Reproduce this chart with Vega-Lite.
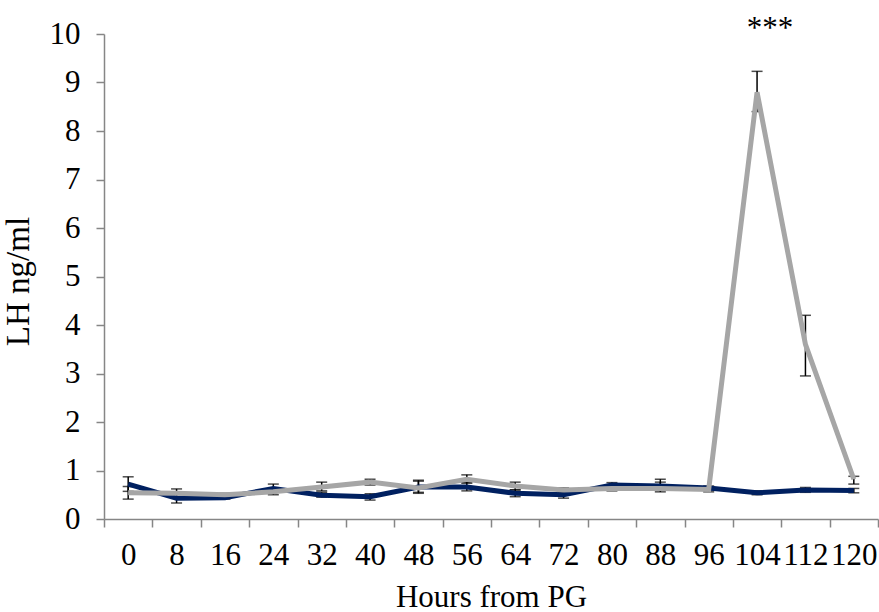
{
  "$schema": "https://vega.github.io/schema/vega-lite/v6.json",
  "width": 774,
  "height": 485,
  "autosize": {"type": "none"},
  "padding": {"left": 104, "top": 34, "right": 1, "bottom": 93},
  "config": {
    "view": {"stroke": null},
    "font": "Liberation Serif"
  },
  "datasets": {
    "lh": [
      {"hour": 0, "group": "A", "value": 0.72, "lo": 0.57, "hi": 0.87},
      {"hour": 8, "group": "A", "value": 0.43, "lo": 0.33, "hi": 0.53},
      {"hour": 16, "group": "A", "value": 0.44, "lo": 0.41, "hi": 0.5},
      {"hour": 24, "group": "A", "value": 0.63, "lo": 0.55, "hi": 0.72},
      {"hour": 32, "group": "A", "value": 0.49, "lo": 0.45, "hi": 0.55},
      {"hour": 40, "group": "A", "value": 0.46, "lo": 0.39, "hi": 0.52},
      {"hour": 48, "group": "A", "value": 0.66, "lo": 0.55, "hi": 0.78},
      {"hour": 56, "group": "A", "value": 0.66, "lo": 0.58, "hi": 0.75},
      {"hour": 64, "group": "A", "value": 0.53, "lo": 0.46, "hi": 0.6},
      {"hour": 72, "group": "A", "value": 0.5, "lo": 0.43, "hi": 0.56},
      {"hour": 80, "group": "A", "value": 0.7, "lo": 0.66, "hi": 0.75},
      {"hour": 88, "group": "A", "value": 0.68, "lo": 0.6, "hi": 0.76},
      {"hour": 96, "group": "A", "value": 0.64, "lo": 0.6, "hi": 0.68},
      {"hour": 104, "group": "A", "value": 0.54, "lo": 0.5, "hi": 0.58},
      {"hour": 112, "group": "A", "value": 0.6, "lo": 0.55, "hi": 0.65},
      {"hour": 120, "group": "A", "value": 0.59, "lo": 0.54, "hi": 0.63},
      {"hour": 0, "group": "B", "value": 0.54, "lo": 0.41, "hi": 0.67},
      {"hour": 8, "group": "B", "value": 0.53, "lo": 0.45, "hi": 0.62},
      {"hour": 16, "group": "B", "value": 0.5, "lo": 0.45, "hi": 0.53},
      {"hour": 24, "group": "B", "value": 0.56, "lo": 0.5, "hi": 0.62},
      {"hour": 32, "group": "B", "value": 0.66, "lo": 0.58, "hi": 0.76},
      {"hour": 40, "group": "B", "value": 0.76, "lo": 0.7, "hi": 0.82},
      {"hour": 48, "group": "B", "value": 0.64, "lo": 0.53, "hi": 0.8},
      {"hour": 56, "group": "B", "value": 0.82, "lo": 0.74, "hi": 0.91},
      {"hour": 64, "group": "B", "value": 0.68, "lo": 0.6, "hi": 0.76},
      {"hour": 72, "group": "B", "value": 0.6, "lo": 0.55, "hi": 0.64},
      {"hour": 80, "group": "B", "value": 0.63, "lo": 0.58, "hi": 0.68},
      {"hour": 88, "group": "B", "value": 0.63, "lo": 0.56, "hi": 0.82},
      {"hour": 96, "group": "B", "value": 0.61, "lo": 0.56, "hi": 0.66},
      {"hour": 104, "group": "B", "value": 8.8, "lo": 8.4, "hi": 9.23},
      {"hour": 112, "group": "B", "value": 3.6, "lo": 2.95, "hi": 4.2},
      {"hour": 120, "group": "B", "value": 0.82, "lo": 0.72, "hi": 0.88}
    ],
    "notes": [{"hour": 104, "y": 9.92, "label": "***"}]
  },
  "encoding": {
    "x": {"field": "hour", "type": "ordinal", "sort": "ascending",
      "scale": {"paddingInner": 0, "paddingOuter": 0},
      "axis": {"title": "Hours from PG", "labelAngle": 0, "tickBand": "extent", "tickSize": 8, "labelPadding": 13, "titlePadding": 12, "labelOverlap": false,
        "grid": false, "domainColor": "#868686", "tickColor": "#868686", "domainWidth": 1.5, "tickWidth": 1.5,
        "labelColor": "#000000", "titleColor": "#000000", "labelFont": "Liberation Serif", "titleFont": "Liberation Serif", "labelFontSize": 31, "titleFontSize": 31, "titleFontWeight": "normal"}}
  },
  "layer": [
    {
      "data": {"name": "lh"},
      "mark": {"type": "rule", "color": "#000000", "strokeWidth": 1.5},
      "encoding": {
        "y": {"field": "lo", "type": "quantitative", "scale": {"domain": [0, 10]},
          "axis": {"title": "LH ng/ml", "values": [0,1,2,3,4,5,6,7,8,9,10], "tickSize": 8, "labelPadding": 16, "titlePadding": 14, "titleY": 247,
            "grid": false, "domainColor": "#868686", "tickColor": "#868686", "domainWidth": 1.5, "tickWidth": 1.5,
            "labelColor": "#000000", "titleColor": "#000000", "labelFont": "Liberation Serif", "titleFont": "Liberation Serif", "labelFontSize": 31, "titleFontSize": 33, "titleFontWeight": "normal"}},
        "y2": {"field": "hi"}
      }
    },
    {
      "data": {"name": "lh"},
      "mark": {"type": "tick", "color": "#000000", "thickness": 1.5, "size": 11},
      "encoding": {"y": {"field": "lo", "type": "quantitative"}}
    },
    {
      "data": {"name": "lh"},
      "mark": {"type": "tick", "color": "#000000", "thickness": 1.5, "size": 11},
      "encoding": {"y": {"field": "hi", "type": "quantitative"}}
    },
    {
      "data": {"name": "lh"},
      "mark": {"type": "line", "strokeWidth": 5, "strokeJoin": "miter"},
      "encoding": {
        "y": {"field": "value", "type": "quantitative"},
        "color": {"field": "group", "type": "nominal", "scale": {"domain": ["A", "B"], "range": ["#002060", "#A6A6A6"]}, "legend": null}
      }
    },
    {
      "data": {"name": "notes"},
      "mark": {"type": "text", "fontSize": 31, "font": "Liberation Serif", "color": "#000000", "dx": 13, "baseline": "alphabetic", "clip": false},
      "encoding": {
        "y": {"field": "y", "type": "quantitative"},
        "text": {"field": "label"}
      }
    }
  ]
}
